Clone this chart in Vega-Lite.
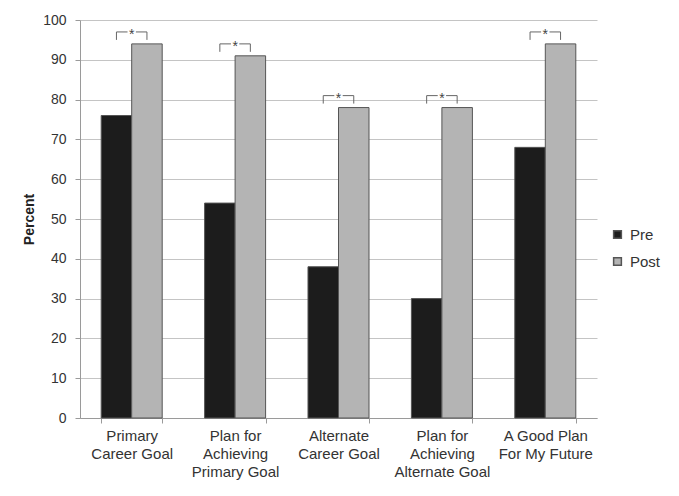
{
  "$schema": "https://vega.github.io/schema/vega-lite/v6.json",
  "width": 517,
  "height": 398,
  "autosize": {"type": "none"},
  "padding": {"left": 80, "top": 20, "right": 82, "bottom": 78},
  "background": "white",
  "config": {"view": {"stroke": null}, "font": "Liberation Sans"},
  "datasets": {
    "bars": [
      {"cat": "Primary|Career Goal", "grp": "Pre", "pct": 76},
      {"cat": "Primary|Career Goal", "grp": "Post", "pct": 94},
      {"cat": "Plan for|Achieving|Primary Goal", "grp": "Pre", "pct": 54},
      {"cat": "Plan for|Achieving|Primary Goal", "grp": "Post", "pct": 91},
      {"cat": "Alternate|Career Goal", "grp": "Pre", "pct": 38},
      {"cat": "Alternate|Career Goal", "grp": "Post", "pct": 78},
      {"cat": "Plan for|Achieving|Alternate Goal", "grp": "Pre", "pct": 30},
      {"cat": "Plan for|Achieving|Alternate Goal", "grp": "Post", "pct": 78},
      {"cat": "A Good Plan|For My Future", "grp": "Pre", "pct": 68},
      {"cat": "A Good Plan|For My Future", "grp": "Post", "pct": 94}
    ],
    "brackets": [
      {"cat": "Primary|Career Goal", "grp": "Pre", "pct": 95, "ord": 1},
      {"cat": "Primary|Career Goal", "grp": "Pre", "pct": 97, "ord": 2},
      {"cat": "Primary|Career Goal", "grp": "Post", "pct": 97, "ord": 3},
      {"cat": "Primary|Career Goal", "grp": "Post", "pct": 95, "ord": 4},
      {"cat": "Plan for|Achieving|Primary Goal", "grp": "Pre", "pct": 92, "ord": 1},
      {"cat": "Plan for|Achieving|Primary Goal", "grp": "Pre", "pct": 94, "ord": 2},
      {"cat": "Plan for|Achieving|Primary Goal", "grp": "Post", "pct": 94, "ord": 3},
      {"cat": "Plan for|Achieving|Primary Goal", "grp": "Post", "pct": 92, "ord": 4},
      {"cat": "Alternate|Career Goal", "grp": "Pre", "pct": 79, "ord": 1},
      {"cat": "Alternate|Career Goal", "grp": "Pre", "pct": 81, "ord": 2},
      {"cat": "Alternate|Career Goal", "grp": "Post", "pct": 81, "ord": 3},
      {"cat": "Alternate|Career Goal", "grp": "Post", "pct": 79, "ord": 4},
      {"cat": "Plan for|Achieving|Alternate Goal", "grp": "Pre", "pct": 79, "ord": 1},
      {"cat": "Plan for|Achieving|Alternate Goal", "grp": "Pre", "pct": 81, "ord": 2},
      {"cat": "Plan for|Achieving|Alternate Goal", "grp": "Post", "pct": 81, "ord": 3},
      {"cat": "Plan for|Achieving|Alternate Goal", "grp": "Post", "pct": 79, "ord": 4},
      {"cat": "A Good Plan|For My Future", "grp": "Pre", "pct": 95, "ord": 1},
      {"cat": "A Good Plan|For My Future", "grp": "Pre", "pct": 97, "ord": 2},
      {"cat": "A Good Plan|For My Future", "grp": "Post", "pct": 97, "ord": 3},
      {"cat": "A Good Plan|For My Future", "grp": "Post", "pct": 95, "ord": 4}
    ],
    "stars": [
      {"cat": "Primary|Career Goal", "pct": 97, "label": "*"},
      {"cat": "Plan for|Achieving|Primary Goal", "pct": 94, "label": "*"},
      {"cat": "Alternate|Career Goal", "pct": 81, "label": "*"},
      {"cat": "Plan for|Achieving|Alternate Goal", "pct": 81, "label": "*"},
      {"cat": "A Good Plan|For My Future", "pct": 97, "label": "*"}
    ]
  },
  "encoding": {
    "x": {
      "field": "cat",
      "type": "nominal",
      "sort": null,
      "scale": {"paddingInner": 0.41, "paddingOuter": 0.205},
      "axis": {
        "title": null,
        "labelAngle": 0,
        "labelExpr": "split(datum.label, '|')",
        "labelFontSize": 15,
        "labelLineHeight": 18,
        "labelColor": "#333333",
        "labelPadding": 5,
        "labelBaseline": "top",
        "domainColor": "#9a9a9a",
        "tickColor": "#9a9a9a",
        "tickSize": 5,
        "tickBand": "extent",
        "grid": false
      }
    },
    "y": {
      "field": "pct",
      "type": "quantitative",
      "scale": {"domain": [0, 100]},
      "axis": {
        "title": "Percent",
        "titleFontSize": 14,
        "titleFontWeight": "bold",
        "titleColor": "#222222",
        "titlePadding": 6,
        "values": [0, 10, 20, 30, 40, 50, 60, 70, 80, 90, 100],
        "labelOverlap": false,
        "labelFontSize": 14,
        "labelColor": "#333333",
        "labelPadding": 9,
        "tickSize": 5,
        "tickColor": "#9a9a9a",
        "domainColor": "#9a9a9a",
        "grid": true,
        "gridColor": "#c4c4c4"
      }
    }
  },
  "layer": [
    {
      "data": {"name": "bars"},
      "mark": {"type": "bar", "stroke": "#555555", "strokeWidth": 1},
      "encoding": {
        "xOffset": {"field": "grp", "type": "nominal", "sort": ["Pre", "Post"], "scale": {"paddingInner": 0, "paddingOuter": 0}},
        "color": {
          "field": "grp",
          "type": "nominal",
          "scale": {"domain": ["Pre", "Post"], "range": ["#1c1c1c", "#b4b4b4"]},
          "legend": {
            "title": null,
            "orient": "none",
            "legendX": 530,
            "legendY": 207,
            "symbolType": "square",
            "symbolSize": 60,
            "labelFontSize": 15,
            "labelColor": "#333333",
            "labelOffset": 5,
            "rowPadding": 11,
            "padding": 0
          }
        }
      }
    },
    {
      "data": {"name": "brackets"},
      "mark": {"type": "line", "color": "#666666", "strokeWidth": 1},
      "encoding": {
        "xOffset": {"field": "grp", "type": "nominal", "sort": ["Pre", "Post"]},
        "detail": {"field": "cat"},
        "order": {"field": "ord", "type": "quantitative"}
      }
    },
    {
      "data": {"name": "stars"},
      "mark": {"type": "point", "shape": "square", "filled": true, "color": "white", "opacity": 1, "size": 70}
    },
    {
      "data": {"name": "stars"},
      "mark": {"type": "text", "fontSize": 14, "color": "#444444", "baseline": "middle", "dy": 3},
      "encoding": {
        "text": {"field": "label"}
      }
    }
  ]
}
